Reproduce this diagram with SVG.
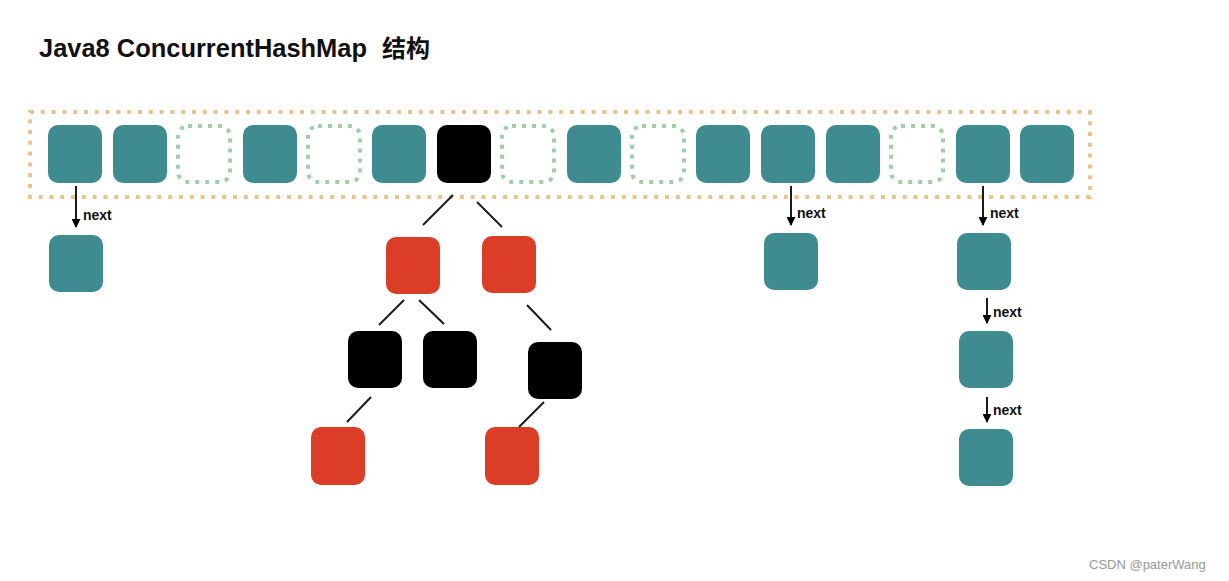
<svg xmlns="http://www.w3.org/2000/svg" width="1229" height="581" viewBox="0 0 1229 581">
<style>
.t{fill:#3e8c8f}
.b{fill:#000}
.r{fill:#dc3d27}
.e{fill:none;stroke:#9dd0a5;stroke-width:4;stroke-dasharray:4 6}
.edge{stroke:#1a1a1a;stroke-width:2;fill:none}
.arr{stroke:#000;stroke-width:1.8;fill:none;marker-end:url(#ah)}
.lbl{font-family:"Liberation Sans",Arial,sans-serif;font-weight:bold;font-size:14px;fill:#111}
.ttl{font-family:"Liberation Sans",Arial,"Noto Sans CJK SC",sans-serif;font-weight:bold;font-size:25px;fill:#111}
</style>
<defs>
<marker id="ah" viewBox="0 0 10 10" refX="9" refY="5" markerWidth="5" markerHeight="5" orient="auto" markerUnits="strokeWidth">
<path d="M0,0 L10,5 L0,10 z" fill="#000"/>
</marker>
</defs>
<rect width="1229" height="581" fill="#fff"/>
<text class="ttl" x="39" y="57"><tspan textLength="328" lengthAdjust="spacingAndGlyphs">Java8 ConcurrentHashMap</tspan><tspan x="382" font-size="24">结构</tspan></text>
<g id="table">
<rect x="30" y="112" width="1060" height="85" fill="none" stroke="#ebc48a" stroke-width="4" stroke-dasharray="4 6.8"/>
</g>
<g id="bucket0"><rect class="t" x="48" y="125" width="54" height="58" rx="10"/></g>
<g id="bucket1"><rect class="t" x="113" y="125" width="54" height="58" rx="10"/></g>
<g id="bucket2"><rect class="e" x="178" y="126" width="52" height="56" rx="10"/></g>
<g id="bucket3"><rect class="t" x="243" y="125" width="54" height="58" rx="10"/></g>
<g id="bucket4"><rect class="e" x="308" y="126" width="52" height="56" rx="10"/></g>
<g id="bucket5"><rect class="t" x="372" y="125" width="54" height="58" rx="10"/></g>
<g id="bucket6"><rect class="b" x="437" y="125" width="54" height="58" rx="10"/></g>
<g id="bucket7"><rect class="e" x="502" y="126" width="52" height="56" rx="10"/></g>
<g id="bucket8"><rect class="t" x="567" y="125" width="54" height="58" rx="10"/></g>
<g id="bucket9"><rect class="e" x="632" y="126" width="52" height="56" rx="10"/></g>
<g id="bucket10"><rect class="t" x="696" y="125" width="54" height="58" rx="10"/></g>
<g id="bucket11"><rect class="t" x="761" y="125" width="54" height="58" rx="10"/></g>
<g id="bucket12"><rect class="t" x="826" y="125" width="54" height="58" rx="10"/></g>
<g id="bucket13"><rect class="e" x="891" y="126" width="52" height="56" rx="10"/></g>
<g id="bucket14"><rect class="t" x="956" y="125" width="54" height="58" rx="10"/></g>
<g id="bucket15"><rect class="t" x="1020" y="125" width="54" height="58" rx="10"/></g>

<g id="list0a"><rect class="t" x="49" y="235" width="54" height="57" rx="10"/></g>
<g id="list11a"><rect class="t" x="764" y="233" width="54" height="57" rx="10"/></g>
<g id="list14a"><rect class="t" x="957" y="233" width="54" height="57" rx="10"/></g>
<g id="list14b"><rect class="t" x="959" y="331" width="54" height="57" rx="10"/></g>
<g id="list14c"><rect class="t" x="959" y="429" width="54" height="57" rx="10"/></g>

<g id="treeR1"><rect class="r" x="386" y="237" width="54" height="57" rx="10"/></g>
<g id="treeR2"><rect class="r" x="482" y="236" width="54" height="57" rx="10"/></g>
<g id="treeB1"><rect class="b" x="348" y="331" width="54" height="57" rx="10"/></g>
<g id="treeB2"><rect class="b" x="423" y="331" width="54" height="57" rx="10"/></g>
<g id="treeB3"><rect class="b" x="528" y="342" width="54" height="57" rx="10"/></g>
<g id="treeR3"><rect class="r" x="311" y="427" width="54" height="58" rx="10"/></g>
<g id="treeR4"><rect class="r" x="485" y="427" width="54" height="58" rx="10"/></g>

<g id="connectors">
<line class="edge" x1="453" y1="195" x2="423" y2="225"/>
<line class="edge" x1="477" y1="202" x2="502" y2="227"/>
<line class="edge" x1="404" y1="300" x2="379" y2="325"/>
<line class="edge" x1="419" y1="300" x2="444" y2="324"/>
<line class="edge" x1="527" y1="305" x2="551" y2="330"/>
<line class="edge" x1="371" y1="397" x2="347" y2="422"/>
<line class="edge" x1="544" y1="402" x2="519" y2="427"/>
<line class="arr" x1="76" y1="186" x2="76" y2="227"/>
<line class="arr" x1="791" y1="186" x2="791" y2="225"/>
<line class="arr" x1="983" y1="186" x2="983" y2="225"/>
<line class="arr" x1="987" y1="298" x2="987" y2="323"/>
<line class="arr" x1="987" y1="397" x2="987" y2="422"/>
<text class="lbl" x="83" y="220">next</text>
<text class="lbl" x="797" y="218">next</text>
<text class="lbl" x="990" y="218">next</text>
<text class="lbl" x="993" y="317">next</text>
<text class="lbl" x="993" y="415">next</text>
</g>
<text x="1089" y="569" font-family="'Liberation Sans',Arial,sans-serif" font-size="13" fill="#999">CSDN @paterWang</text>
</svg>
